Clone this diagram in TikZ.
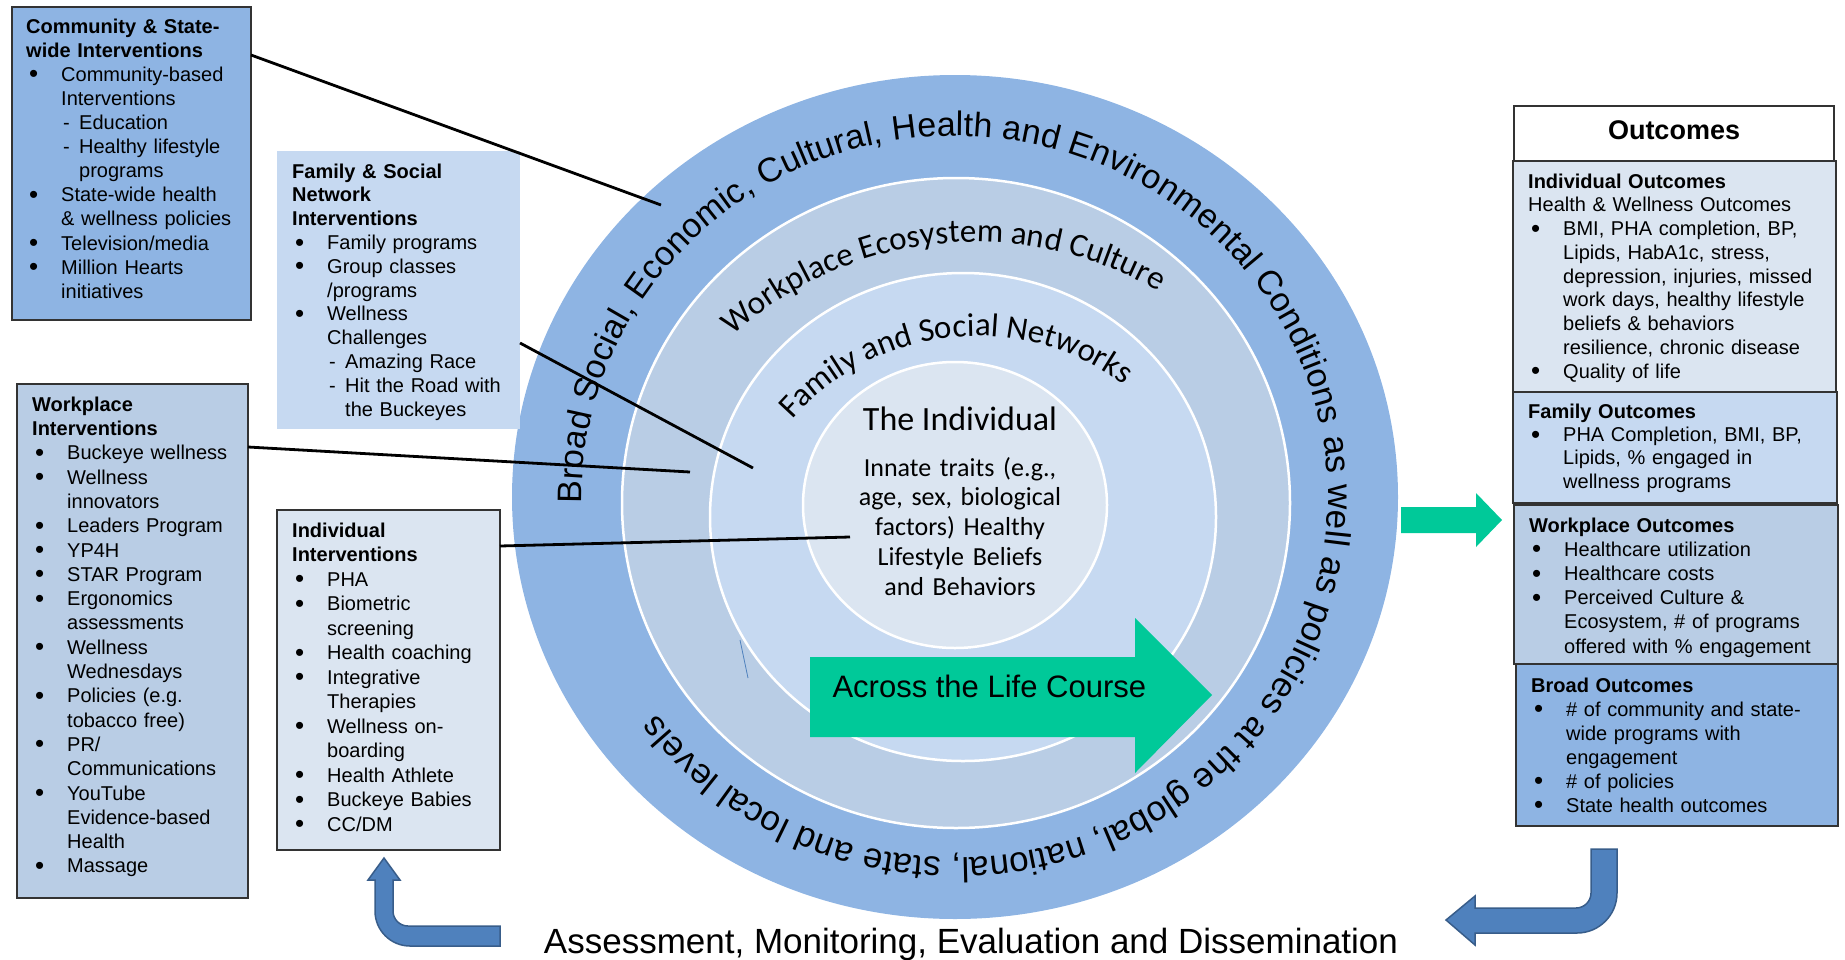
\documentclass[tikz,border=0pt]{standalone}
\usepackage{fontspec}
\setmainfont{Liberation Sans}
\newfontfamily\calfont{Carlito}
\usepackage{xcolor}
\usetikzlibrary{decorations.text}
\setlength{\parindent}{0pt}
\definecolor{ringblue}{HTML}{8EB4E3}
\definecolor{workblue}{HTML}{B9CDE5}
\definecolor{famblue}{HTML}{C6D9F1}
\definecolor{indblue}{HTML}{DBE5F1}
\definecolor{arrowblue}{HTML}{4F81BD}
\definecolor{arrowedge}{HTML}{385D8A}
\definecolor{lifegreen}{HTML}{00C999}
\definecolor{boxline}{HTML}{333333}
\newcommand{\bul}{\par\noindent\hangindent=35pt\hangafter=1\makebox[35pt][l]{\hspace{3pt}\raisebox{-1.5pt}{\scalebox{1.3}{\textbullet}}}}
\newcommand{\dsh}{\par\noindent\hangindent=53pt\hangafter=1\hspace*{37pt}\makebox[16pt][l]{-}}
\newcommand{\ringfont}{\fontsize{35}{40}\selectfont}
\newcommand{\bandfont}{\calfont\fontsize{33}{40}\selectfont}

\begin{document}
\begin{tikzpicture}[x=1pt, y=1pt,
  box/.style={draw=boxline, line width=1.3pt, anchor=north west, inner sep=0pt, outer sep=0pt},
  boxtext/.style={anchor=north west, inner sep=0pt, text width=320pt, align=left, font=\fontsize{20}{#1}\selectfont},
  link/.style={line width=2.8pt, black},
  bigarrow/.style={fill=arrowblue, draw=arrowedge, line width=1.5pt},
  ringtext/.style={decorate, decoration={text along path, text align={#1}}}]
  \useasboundingbox (0,0) rectangle (1845,-959);

  % Nested rings
  \fill[ringblue] (955,-497) ellipse [x radius=443, y radius=422];
  \filldraw[fill=workblue, draw=white, line width=2.5pt] (956,-503) ellipse [x radius=334, y radius=325];
  \filldraw[fill=famblue, draw=white, line width=2.5pt] (963,-517) ellipse [x radius=253, y radius=244];
  \filldraw[fill=indblue, draw=white, line width=2.5pt] (955,-505) ellipse [x radius=152, y radius=143];

  % Ring labels
  \path[ringtext=fit to path, decoration={text={|\fontsize{34}{40}\selectfont|Broad Social, Economic, Cultural, Health and Environmental Conditions}}]
    (955,-497) ++(181:373 and 361) arc[start angle=181, end angle=11.5, x radius=373, y radius=361];
  \path[ringtext=fit to path, decoration={text={|\ringfont|as well as policies at the global, national, state and local levels}}]
    (955,-497) ++(9.5:373 and 361) arc[start angle=9.5, end angle=-143, x radius=373, y radius=361];
  \path[ringtext=center, decoration={text={|\bandfont|Workplace Ecosystem and Culture}}]
    (976,-605) ++(176:363) arc[start angle=176, end angle=16, radius=363];
  \path[ringtext=center, decoration={text={|\bandfont|Family and Social Networks}}]
    (977,-582) ++(176:246) arc[start angle=176, end angle=16, radius=246];

  % The individual
  \node[anchor=base, font=\calfont\fontsize{34}{40}\selectfont] (indtitle) at (960,-430) {The Individual};
  \node[anchor=north, inner sep=0pt, text width=300pt, align=center, font=\calfont\fontsize{26}{29.8}\selectfont] (indtext) at (960,-455.1)
    {\strut Innate traits (e.g.,\\ age, sex, biological\\ factors) Healthy\\ Lifestyle Beliefs\\ and Behaviors};

  % Life course arrow
  \fill[lifegreen] (810,-657) -- (1135,-657) -- (1135,-618) -- (1212,-695) -- (1135,-773) -- (1135,-737) -- (810,-737) -- cycle;
  \node[anchor=base west, font=\fontsize{31}{37}\selectfont] (life) at (829,-697) {Across the Life Course};
  \draw[arrowblue, line width=0.8pt] (740,-640) -- (748,-678);

  % Intervention boxes
  \node[box, fill=ringblue, minimum width=239pt, minimum height=313pt] (comm) at (12,-7) {};
  \node[boxtext=24.1] (commtxt) at (26,-16.1) {\strut\textbf{Community \& State-}\newline\textbf{wide Interventions}
    \bul Community-based\newline Interventions
    \dsh Education
    \dsh Healthy lifestyle\newline programs
    \bul State-wide health\newline \& wellness policies
    \bul Television/media
    \bul Million Hearts\newline initiatives\par};

  \node[box, draw=none, fill=famblue, minimum width=243pt, minimum height=278pt] (famsoc) at (277,-151) {};
  \node[boxtext=23.8] (famsoctxt) at (292,-161.3) {\strut\textbf{Family \& Social}\newline\textbf{Network}\newline\textbf{Interventions}
    \bul Family programs
    \bul Group classes\newline /programs
    \bul Wellness\newline Challenges
    \dsh Amazing Race
    \dsh Hit the Road with\newline the Buckeyes\par};

  \node[box, fill=workblue, minimum width=231pt, minimum height=514pt] (work) at (17,-384) {};
  \node[boxtext=24.3] (worktxt) at (32,-394) {\strut\textbf{Workplace}\newline\textbf{Interventions}
    \bul Buckeye wellness
    \bul Wellness\newline innovators
    \bul Leaders Program
    \bul YP4H
    \bul STAR Program
    \bul Ergonomics\newline assessments
    \bul Wellness\newline Wednesdays
    \bul Policies (e.g.\newline tobacco free)
    \bul PR/\newline Communications
    \bul YouTube\newline Evidence-based\newline Health
    \bul Massage\par};

  \node[box, fill=indblue, minimum width=223pt, minimum height=340pt] (indiv) at (277,-510) {};
  \node[boxtext=24.5] (indivtxt) at (292,-519.9) {\strut\textbf{Individual}\newline\textbf{Interventions}
    \bul PHA
    \bul Biometric\newline screening
    \bul Health coaching
    \bul Integrative\newline Therapies
    \bul Wellness on-\newline boarding
    \bul Health Athlete
    \bul Buckeye Babies
    \bul CC/DM\par};

  % Connectors into the rings
  \coordinate (broadpt) at (661,-205);
  \coordinate (fampt) at (753,-468);
  \coordinate (workpt) at (690,-472);
  \coordinate (indpt) at (850,-537);
  \draw[link] ([yshift=-48pt]comm.north east) -- (broadpt);
  \draw[link] ([yshift=-192pt]famsoc.north east) -- (fampt);
  \draw[link] ([yshift=-63pt]work.north east) -- (workpt);
  \draw[link] ([yshift=-36pt]indiv.north east) -- (indpt);

  % Outcomes
  \fill[lifegreen] (1401,-507) -- (1476,-507) -- (1476,-493) -- (1502,-520) -- (1476,-547) -- (1476,-533) -- (1401,-533) -- cycle;
  \node[box, fill=white, minimum width=320pt, minimum height=55pt] (outhead) at (1514,-106) {};
  \node[anchor=base, font=\fontsize{27}{32}\selectfont\bfseries] (outtitle) at (1674,-139) {Outcomes};

  \node[box, fill=indblue, minimum width=323pt, minimum height=231pt] (indout) at (1513,-161) {};
  \node[boxtext=23.75] (indouttxt) at (1528,-171.4) {\strut\textbf{Individual Outcomes}\newline Health \& Wellness Outcomes
    \bul BMI, PHA completion, BP,\newline Lipids, HabA1c, stress,\newline depression, injuries, missed\newline work days, healthy lifestyle\newline beliefs \& behaviors\newline resilience, chronic disease
    \bul Quality of life\par};

  \node[box, fill=famblue, minimum width=324pt, minimum height=111pt] (famout) at (1513,-392) {};
  \node[boxtext=23.3] (famouttxt) at (1528,-401.7) {\strut\textbf{Family Outcomes}
    \bul PHA Completion, BMI, BP,\newline Lipids, \% engaged in\newline wellness programs\par};

  \node[box, fill=workblue, minimum width=324pt, minimum height=159pt] (workout) at (1514,-505) {};
  \node[boxtext=24.2] (workouttxt) at (1529,-515) {\strut\textbf{Workplace Outcomes}
    \bul Healthcare utilization
    \bul Healthcare costs
    \bul Perceived Culture \&\newline Ecosystem, \# of programs\newline offered with \% engagement\par};

  \node[box, fill=ringblue, minimum width=322pt, minimum height=162pt] (broadout) at (1516,-664) {};
  \node[boxtext=24] (broadouttxt) at (1531,-675.2) {\strut\textbf{Broad Outcomes}
    \bul \# of community and state-\newline wide programs with\newline engagement
    \bul \# of policies
    \bul State health outcomes\par};

  % Feedback arrows
  \filldraw[bigarrow] (500,-926) -- (408,-926) arc[start angle=270, end angle=180, radius=15] -- (393,-880) -- (400,-880) -- (384,-858) -- (368,-880) -- (375,-880) -- (375,-911) arc[start angle=180, end angle=270, radius=35] -- (500,-946) -- cycle;
  \filldraw[bigarrow] (1591,-849) -- (1617,-849) -- (1617,-893) arc[start angle=0, end angle=-90, radius=40] -- (1475,-933) -- (1475,-945) -- (1446,-920) -- (1475,-896) -- (1475,-908) -- (1576,-908) arc[start angle=-90, end angle=0, radius=15] -- cycle;
  \node[anchor=base, font=\fontsize{35}{40}\selectfont] (assess) at (971,-953) {Assessment, Monitoring, Evaluation and Dissemination};
\end{tikzpicture}
\end{document}
